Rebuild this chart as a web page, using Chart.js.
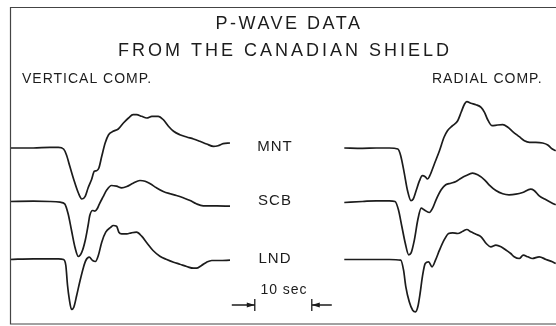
<!DOCTYPE html>
<html>
<head>
<meta charset="utf-8">
<script src="https://cdn.jsdelivr.net/npm/chart.js@4/dist/chart.umd.min.js"></script>
<style>
html, body { margin: 0; padding: 0; background: #fff; }
</style>
</head>
<body>
<canvas id="myChart" width="556" height="326"></canvas>
<script>
// stations, rows (vertical position of each zero line) and panel start times
var stations = ["MNT", "SCB", "LND"];
var stationRow = [148, 201.5, 259.5];
var panels = ["VERTICAL COMP.", "RADIAL COMP."];
var panelStart = [1.75, 60.4];   // seconds
var scaleBarSec = [44.7, 54.7];  // the 10 sec bar

// vertical component, time (s) and amplitude
var vertMntT = [0,4.1,7.0,8.5,9.4,9.9,10.5,11.2,12.0,12.6,13.2,13.7,14.3,14.8,15.2,15.6,16.1,16.7,17.3,18.1,19.0,19.9,20.8,21.6,22.2,23.1,24.0,24.9,26.0,26.9,27.8,28.7,29.8,31.0,32.2,33.3,34.5,35.7,36.5,37.4,38.6];
var vertMntA = [0,0,0.7,0.7,-1,-6.7,-18.3,-31.7,-45,-51,-48.3,-40,-31.7,-23.3,-22.7,-20,-8.3,5,13.3,16.7,19,25,30,33.3,33.3,31.7,30,31.7,31.7,28.3,21.7,16.7,13.3,11,9,6.7,4,1.7,2.3,4.3,5];
var vertScbT = [0,4.1,7.0,8.8,9.6,10.2,10.8,11.4,12.0,12.6,13.2,13.7,14.0,14.5,14.9,15.3,15.7,16.3,17.0,17.8,18.7,19.6,20.5,21.6,22.8,23.7,24.6,25.7,26.9,28.1,29.2,30.4,31.6,32.7,33.9,36.3,38.6];
var vertScbA = [0,0.3,0,-0.7,-2.3,-12.3,-29,-45.7,-55,-50.7,-39,-24,-14,-9,-9.7,-7.3,-2.3,4.3,11.7,16,15.3,13.7,15,18.3,21,20.3,17.7,13.7,10,7.7,6,3.7,1,-2.3,-4.3,-4.3,-4.7];
var vertLndT = [0,4.1,7.0,8.5,9.4,9.8,10.1,10.4,10.8,11.2,11.7,12.3,12.9,13.3,13.9,14.5,15.0,15.5,16.1,16.8,17.7,18.1,18.7,19.1,19.6,20.5,21.3,22.2,23.1,24.0,25.1,26.3,27.5,28.7,29.8,31.0,32.2,32.7,33.6,34.5,35.4,36.8,38.6];
var vertLndA = [0,0.7,0.7,0.7,0,-6,-26,-39.3,-50,-47.7,-36,-21,-7.7,-1,2.3,-1,-2,4,17.3,27.3,32.3,34,33.3,27.3,25.7,25.7,26.7,27.3,23.3,16.7,9,3.3,0,-2.7,-4.7,-7,-8.7,-8.7,-6,-2.7,-1,-1,-0.7];

// radial component
var radMntT = [0,3.2,5.6,7.9,9.4,9.9,10.5,11.1,11.7,12.1,12.6,13.2,13.7,14.2,14.6,15.0,15.8,16.7,17.5,18.1,19.0,19.9,20.5,21.1,21.5,22.2,23.1,24.0,24.6,25.1,25.9,26.9,27.8,28.7,29.5,30.7,31.6,32.5,33.6,34.8,35.7,36.5,37.1];
var radMntA = [0,-0.3,0,0,-1,-7.7,-24.3,-42.7,-52.7,-51,-42.7,-32.7,-27.7,-28.7,-31,-27.7,-16,-2.7,10.7,17.3,22.3,27.3,35.7,44,46.3,44.7,43.3,40.7,35.7,29,22.3,23,23.3,20.7,16.7,11.3,7.3,5.7,5.7,5,3,-1,-2.7];
var radScbT = [0,3.2,5.6,7.9,8.9,9.5,10.1,10.7,11.3,11.7,12.3,12.9,13.5,14.0,14.9,15.5,16.1,17.0,17.8,18.7,19.6,20.5,21.3,22.5,23.4,24.6,25.4,26.6,27.8,28.9,30.1,31.3,32.7,33.3,34.2,35.4,36.5,37.1];
var radScbA = [-1,0,0.7,0.7,0,-8.3,-25,-41.7,-53.3,-51.7,-38.3,-18.3,-6.7,-8.3,-11,-6.7,1.7,11.7,16.7,18.3,20,23.3,25.7,28.3,26.7,21.7,16.7,11,7.7,6.7,7.3,9,12.3,11,5.7,1.7,-1.7,-3.3];
var radLndT = [0,3.2,7.9,9.9,10.4,10.8,11.4,12.0,12.5,12.9,13.3,13.7,14.2,14.8,15.4,16.0,16.7,17.5,18.3,19.0,19.9,20.8,21.5,22.2,23.1,24.0,24.9,25.7,26.6,27.5,28.4,29.2,29.8,30.7,31.4,32.2,33.0,34.2,35.4,36.5,37.1];
var radLndA = [0,0,0,-0.7,-10.7,-27.3,-42.3,-50.7,-52.3,-47.3,-34,-17.3,-4,-2.3,-7.3,-0.7,9.3,19.3,26,26.7,26,28.3,30,27.7,25.3,22.7,16,12.7,14.3,12.7,9.3,6,2.7,1,4.3,2.7,1,2.7,0,-2.3,-4];

var traces = [
    [[vertMntT, vertMntA], [vertScbT, vertScbA], [vertLndT, vertLndA]],
    [[radMntT, radMntA], [radScbT, radScbA], [radLndT, radLndA]]
];

var ink = '#1c1c1c';
var font = '"Liberation Sans", "DejaVu Sans", sans-serif';

function buildDatasets(){
    var sets = [];
    for(var p = 0; p < panels.length; p++){
        for(var s = 0; s < stations.length; s++){
            var t = traces[p][s][0];
            var a = traces[p][s][1];
            var pts = [];
            for(var i = 0; i < t.length; i++){
                pts.push({x: panelStart[p] + t[i], y: stationRow[s] - a[i]});
            }
            sets.push({
                label: panels[p] + ' ' + stations[s],
                data: pts,
                borderColor: ink,
                borderWidth: 1.7,
                pointRadius: 0,
                fill: false,
                cubicInterpolationMode: 'monotone'
            });
        }
    }
    return sets;
}

function label(ctx, txt, x, y, size, align, spacing){
    ctx.font = size + 'px ' + font;
    ctx.textAlign = align;
    ctx.textBaseline = 'middle';
    ctx.letterSpacing = spacing + 'px';
    ctx.fillText(txt, x, y);
}

var deco = {
    id: 'deco',
    afterDraw: function(chart){
        var ctx = chart.ctx;
        var xs = chart.scales.x;
        ctx.save();
        // frame
        ctx.strokeStyle = '#444';
        ctx.lineWidth = 1.2;
        ctx.beginPath();
        ctx.moveTo(556, 7.5);
        ctx.lineTo(10.5, 7.5);
        ctx.lineTo(10.5, 324);
        ctx.lineTo(556, 324);
        ctx.stroke();

        ctx.fillStyle = ink;
        label(ctx, 'P-WAVE DATA', 289, 24, 18, 'center', 2.5);
        label(ctx, 'FROM THE CANADIAN SHIELD', 285, 51, 18, 'center', 3);
        label(ctx, panels[0], 22, 79, 14, 'left', 1);
        label(ctx, panels[1], 432, 79, 14, 'left', 1);
        for(var s = 0; s < stations.length; s++){
            label(ctx, stations[s], 275, stationRow[s] - 1, 15, 'center', 1);
        }
        label(ctx, '10 sec', 284, 290, 14, 'center', 1);

        // 10 sec bar
        var x1 = xs.getPixelForValue(scaleBarSec[0]);
        var x2 = xs.getPixelForValue(scaleBarSec[1]);
        var yb = 305;
        ctx.strokeStyle = ink;
        ctx.lineWidth = 1.3;
        ctx.beginPath();
        ctx.moveTo(x1 - 23, yb); ctx.lineTo(x1, yb);
        ctx.moveTo(x1, yb - 6); ctx.lineTo(x1, yb + 6);
        ctx.moveTo(x2 + 20, yb); ctx.lineTo(x2, yb);
        ctx.moveTo(x2, yb - 6); ctx.lineTo(x2, yb + 6);
        ctx.stroke();
        ctx.beginPath();
        ctx.moveTo(x1, yb); ctx.lineTo(x1 - 8, yb - 2.5); ctx.lineTo(x1 - 8, yb + 2.5); ctx.closePath();
        ctx.moveTo(x2, yb); ctx.lineTo(x2 + 8, yb - 2.5); ctx.lineTo(x2 + 8, yb + 2.5); ctx.closePath();
        ctx.fill();
        ctx.restore();
    }
};

new Chart(document.getElementById('myChart'), {
    type: 'line',
    data: { datasets: buildDatasets() },
    options: {
        responsive: false,
        animation: false,
        devicePixelRatio: 1,
        layout: { padding: 0 },
        plugins: { legend: { display: false }, tooltip: { enabled: false } },
        scales: {
            x: { type: 'linear', min: 0, max: 556 / 5.7, display: false },
            y: { type: 'linear', min: 0, max: 326, reverse: true, display: false }
        }
    },
    plugins: [deco]
});
</script>
</body>
</html>
